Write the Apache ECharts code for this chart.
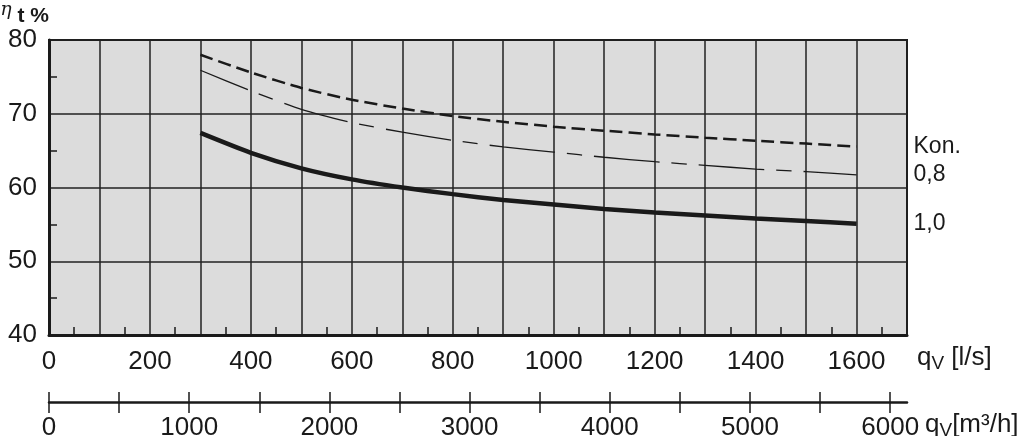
<!DOCTYPE html>
<html>
<head>
<meta charset="utf-8">
<script src="https://cdn.jsdelivr.net/npm/echarts@6/dist/echarts.min.js"></script>
<style>
html,body{margin:0;padding:0;background:#fff;}
#c{width:1024px;height:436px;}
</style>
</head>
<body>
<div id="c"></div>
<script>
// ---- data ----
const flowLs = [300, 400, 500, 600, 700, 800, 900, 1000, 1100, 1200, 1300, 1400, 1500, 1600];
const seriesNames = ['Kon.', '0,8', '1,0'];
const effKon = [78.0, 75.6, 73.5, 71.9, 70.7, 69.7, 68.9, 68.25, 67.7, 67.2, 66.75, 66.35, 65.95, 65.55];
const eff08  = [75.9, 73.1, 70.6, 68.8, 67.5, 66.4, 65.5, 64.8, 64.1, 63.5, 63.0, 62.5, 62.15, 61.7];
const eff10  = [67.4, 64.7, 62.6, 61.1, 60.0, 59.1, 58.3, 57.7, 57.1, 56.6, 56.2, 55.8, 55.45, 55.1];
const lsLabels = [0, 200, 400, 600, 800, 1000, 1200, 1400, 1600];
const lsMinorTicks = [50, 150, 250, 350, 450, 550, 650, 750, 850, 950, 1050, 1150, 1250, 1350, 1450, 1550, 1650];
const m3hTicks = [0, 500, 1000, 1500, 2000, 2500, 3000, 3500, 4000, 4500, 5000, 5500, 6000];
const m3hLabels = [0, 1000, 2000, 3000, 4000, 5000, 6000];
const etaMinorTicks = [45, 55, 65, 75];
const lsMax = 1700;
const m3hPerLs = 3.6;

const ink = '#1a1a1a';
const font = "'Liberation Sans', Arial, sans-serif";
const plain = v => String(v);

function pairs(ys) { return flowLs.map((x, i) => [x, ys[i]]); }

const chart = echarts.init(document.getElementById('c'), null, { renderer: 'canvas' });
chart.setOption({
  animation: false,
  textStyle: { fontFamily: font },
  grid: {
    left: 49, top: 40, right: 117, bottom: 101,
    outerBoundsMode: 'none', containLabel: false,
    show: true, backgroundColor: '#dcdcdc', borderColor: ink, borderWidth: 2
  },
  xAxis: [
    {
      type: 'value', min: 0, max: lsMax, interval: 100, position: 'bottom',
      axisLine: { show: true, onZero: false, lineStyle: { color: ink, width: 3 } },
      axisTick: { show: false },
      axisLabel: { customValues: lsLabels, formatter: plain, fontSize: 26, color: ink, margin: 14, fontFamily: font },
      splitLine: { show: true, lineStyle: { color: '#222', width: 1.5 } },
      name: '{q|q}{v|V}{u| [l/s]}',
      nameLocation: 'end', nameGap: 10,
      nameTextStyle: {
        padding: [46, 0, 0, 0],
        rich: {
          q: { fontSize: 26, color: ink, fontFamily: font, lineHeight: 30 },
          v: { fontSize: 19, color: ink, fontFamily: font, lineHeight: 17, verticalAlign: 'bottom' },
          u: { fontSize: 26, color: ink, fontFamily: font, lineHeight: 30 }
        }
      }
    },
    {
      type: 'value', min: 0, max: lsMax * m3hPerLs, position: 'bottom', offset: 67,
      axisLine: { show: true, onZero: false, lineStyle: { color: ink, width: 2.5 } },
      axisTick: { show: true, length: 11, customValues: m3hTicks, lineStyle: { color: ink, width: 1.5 } },
      axisLabel: { customValues: m3hLabels, formatter: plain, fontSize: 26, color: ink, margin: 13, fontFamily: font },
      splitLine: { show: false },
      name: '{q|q}{v|V}{u|[m³/h]}',
      nameLocation: 'end', nameGap: 3,
      nameTextStyle: {
        padding: [46, 0, 0, 0],
        rich: {
          q: { fontSize: 26, color: ink, fontFamily: font, lineHeight: 30 },
          v: { fontSize: 19, color: ink, fontFamily: font, lineHeight: 17, verticalAlign: 'bottom' },
          u: { fontSize: 26, color: ink, fontFamily: font, lineHeight: 30 }
        }
      }
    },
    {
      type: 'value', min: 0, max: lsMax * m3hPerLs, position: 'bottom', offset: 67,
      axisLine: { show: false },
      axisTick: { show: true, inside: true, length: 10, customValues: m3hTicks, lineStyle: { color: ink, width: 1.5 } },
      axisLabel: { show: false },
      splitLine: { show: false }
    },
    {
      type: 'value', min: 0, max: lsMax, position: 'bottom', offset: 0,
      axisLine: { show: false },
      axisTick: { show: true, inside: true, length: 8, customValues: lsMinorTicks, lineStyle: { color: ink, width: 1.5 } },
      axisLabel: { show: false },
      splitLine: { show: false }
    }
  ],
  yAxis: [
    {
      type: 'value', min: 40, max: 80, interval: 10, position: 'left',
      axisLine: { show: true, onZero: false, lineStyle: { color: ink, width: 3 } },
      axisTick: { show: false },
      axisLabel: { formatter: plain, fontSize: 26, color: ink, margin: 12, fontFamily: font },
      splitLine: { show: true, lineStyle: { color: '#222', width: 1.5 } },
      name: '{e|η}{t| t %}',
      nameLocation: 'end', nameGap: 13,
      nameTextStyle: {
        align: 'right',
        rich: {
          e: { fontSize: 19, color: ink, fontFamily: "'DejaVu Serif', serif", fontStyle: 'italic', lineHeight: 26, verticalAlign: 'top' },
          t: { fontSize: 21, fontWeight: 'bold', color: ink, fontFamily: font, lineHeight: 26, verticalAlign: 'bottom' }
        }
      }
    },
    {
      type: 'value', min: 40, max: 80, position: 'left', offset: 0,
      axisLine: { show: false },
      axisTick: { show: true, inside: true, length: 8, customValues: etaMinorTicks, lineStyle: { color: ink, width: 1.5 } },
      axisLabel: { show: false },
      splitLine: { show: false }
    }
  ],
  series: [
    {
      name: seriesNames[0], type: 'line', xAxisIndex: 0, yAxisIndex: 0, data: pairs(effKon),
      showSymbol: false, smooth: 0.2, clip: false,
      lineStyle: { color: ink, width: 2.5, type: [13, 6] },
      endLabel: { show: true, formatter: '{a}', distance: 57, fontSize: 23, color: ink, fontFamily: font }
    },
    {
      name: seriesNames[1], type: 'line', xAxisIndex: 0, yAxisIndex: 0, data: pairs(eff08),
      showSymbol: false, smooth: 0.2, clip: false,
      lineStyle: { color: ink, width: 1.3, type: [66, 12, 15, 12], dashOffset: 15 },
      endLabel: { show: true, formatter: '{a}', distance: 57, fontSize: 23, color: ink, fontFamily: font }
    },
    {
      name: seriesNames[2], type: 'line', xAxisIndex: 0, yAxisIndex: 0, data: pairs(eff10),
      showSymbol: false, smooth: 0.2, clip: false,
      lineStyle: { color: ink, width: 4.5 },
      endLabel: { show: true, formatter: '{a}', distance: 57, fontSize: 23, color: ink, fontFamily: font }
    }
  ]
});
</script>
</body>
</html>
